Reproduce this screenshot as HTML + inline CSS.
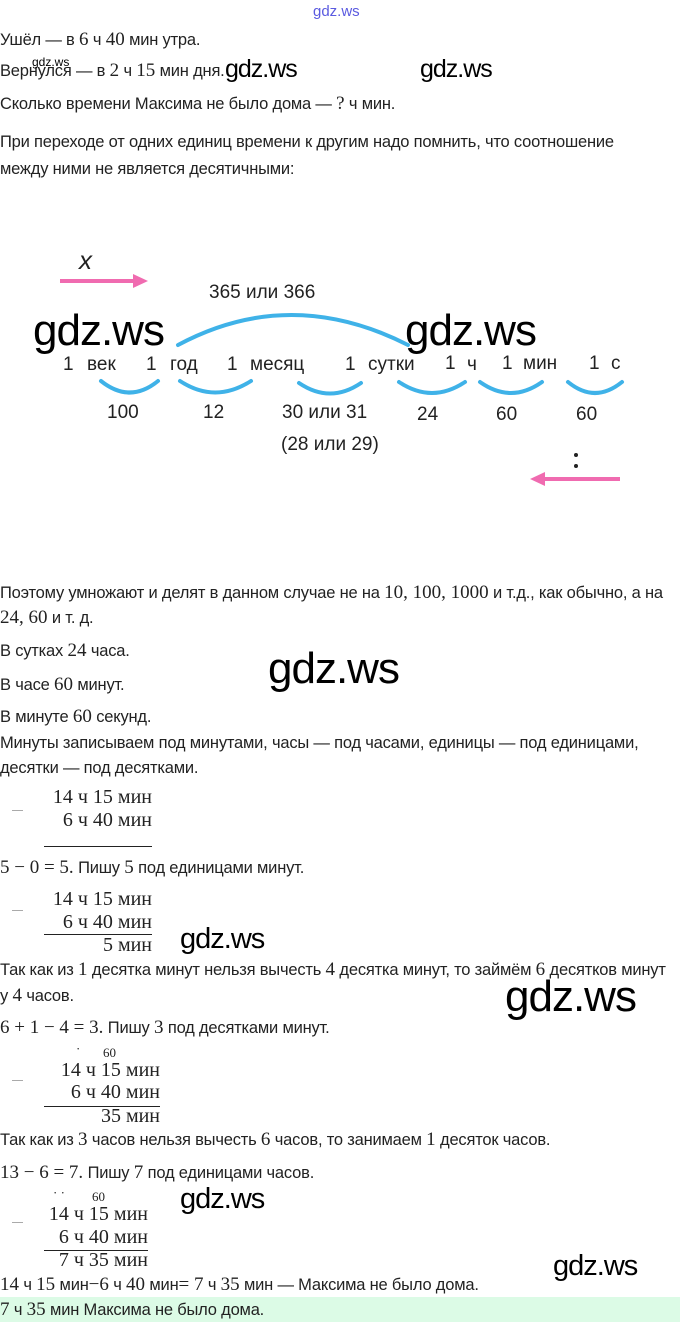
<!DOCTYPE html>
<html><head><meta charset="utf-8"><style>
body{margin:0;width:680px;height:1322px;background:#fff;position:relative;overflow:hidden;font-family:"Liberation Sans",sans-serif;color:#222;}
.t{position:absolute;left:0;font-size:16.5px;line-height:18px;white-space:nowrap;letter-spacing:-0.2px;}
.m{font-family:"Liberation Serif",serif;font-size:19px;letter-spacing:0;}
.w{position:absolute;font-family:"Liberation Sans",sans-serif;color:#000;white-space:nowrap;line-height:1;letter-spacing:-1px;}
.b{position:absolute;font-family:"Liberation Serif",serif;font-size:20px;line-height:20px;text-align:right;white-space:nowrap;color:#222;}
.ln{position:absolute;height:1px;background:#222;}
.mn{position:absolute;left:12px;width:11px;height:1px;background:#aaa;}
.d{position:absolute;font-size:19px;font-family:"Liberation Sans",sans-serif;white-space:nowrap;color:#222;line-height:20px;}
</style></head><body>
<div class="w" style="left:313px;top:4px;font-size:15px;color:#5a5ae0;letter-spacing:0">gdz.ws</div>
<div class="t" style="top:31px">Ушёл — в <span class="m">6</span> ч <span class="m">40</span> мин утра.</div>
<div class="t" style="top:62px">Вернулся — в <span class="m">2</span> ч <span class="m">15</span> мин дня.</div>
<div class="w" style="left:32px;top:56px;font-size:12px;letter-spacing:0">gdz.ws</div>
<div class="w" style="left:225px;top:57px;font-size:25px">gdz.ws</div>
<div class="w" style="left:420px;top:57px;font-size:25px">gdz.ws</div>
<div class="t" style="top:95px">Сколько времени Максима не было дома — <span class="m">?</span> ч мин.</div>
<div class="t" style="top:133px">При переходе от одних единиц времени к другим надо помнить, что соотношение</div>
<div class="t" style="top:160px">между ними не является десятичными:</div>

<svg style="position:absolute;left:0;top:0" width="680" height="520">
<g stroke="#f06bb0" stroke-width="4" fill="#f06bb0">
<line x1="60" y1="281" x2="135" y2="281"/><polygon points="148,281 133,274 133,288" stroke="none"/>
<line x1="545" y1="479" x2="620" y2="479"/><polygon points="530,479 545,472 545,486" stroke="none"/>
</g>
<g stroke="#3fb2e8" stroke-width="4" fill="none" stroke-linecap="round">
<path d="M178,345 Q290,285 408,345"/>
<path d="M101,381 Q130,404 158,381"/>
<path d="M180,381 Q215,404 251,381"/>
<path d="M299,383 Q330,404 361,383"/>
<path d="M399,382 Q432,404 465,382"/>
<path d="M480,382 Q511,404 542,382"/>
<path d="M568,382 Q595,404 622,382"/>
</g>
<circle cx="576" cy="455" r="2" fill="#222"/><circle cx="576" cy="466" r="2" fill="#222"/>
</svg>
<div class="d" style="left:79px;top:250px;font-size:26px;font-style:italic">x</div>
<div class="d" style="left:209px;top:283px">365 или 366</div>
<div class="d" style="left:63px;top:355px">1</div>
<div class="d" style="left:87px;top:355px">век</div>
<div class="d" style="left:146px;top:355px">1</div>
<div class="d" style="left:170px;top:355px">год</div>
<div class="d" style="left:227px;top:355px">1</div>
<div class="d" style="left:250px;top:355px">месяц</div>
<div class="d" style="left:345px;top:355px">1</div>
<div class="d" style="left:368px;top:355px">сутки</div>
<div class="d" style="left:445px;top:354px">1</div>
<div class="d" style="left:467px;top:355px">ч</div>
<div class="d" style="left:502px;top:354px">1</div>
<div class="d" style="left:523px;top:354px">мин</div>
<div class="d" style="left:589px;top:354px">1</div>
<div class="d" style="left:611px;top:354px">с</div>
<div class="d" style="left:107px;top:403px">100</div>
<div class="d" style="left:203px;top:403px">12</div>
<div class="d" style="left:282px;top:403px">30 или 31</div>
<div class="d" style="left:417px;top:405px">24</div>
<div class="d" style="left:496px;top:405px">60</div>
<div class="d" style="left:576px;top:405px">60</div>
<div class="d" style="left:281px;top:435px">(28 или 29)</div>
<div class="w" style="left:33px;top:309px;font-size:44px">gdz.ws</div>
<div class="w" style="left:405px;top:309px;font-size:44px">gdz.ws</div>

<div class="t" style="top:584px">Поэтому умножают и делят в данном случае не на <span class="m">10, 100, 1000</span> и т.д., как обычно, а на</div>
<div class="t" style="top:609px"><span class="m">24, 60</span> и т. д.</div>
<div class="t" style="top:642px">В сутках <span class="m">24</span> часа.</div>
<div class="w" style="left:268px;top:647px;font-size:44px">gdz.ws</div>
<div class="t" style="top:676px">В часе <span class="m">60</span> минут.</div>
<div class="t" style="top:708px">В минуте <span class="m">60</span> секунд.</div>
<div class="t" style="top:734px">Минуты записываем под минутами, часы — под часами, единицы — под единицами,</div>
<div class="t" style="top:759px">десятки — под десятками.</div>

<div class="mn" style="top:810px"></div>
<div class="b" style="right:528px;top:787px">14 ч 15 мин</div>
<div class="b" style="right:528px;top:810px">6 ч 40 мин</div>
<div class="ln" style="left:44px;width:108px;top:846px"></div>
<div class="t" style="top:859px"><span class="m">5 − 0 = 5.</span> Пишу <span class="m">5</span> под единицами минут.</div>

<div class="mn" style="top:910px"></div>
<div class="b" style="right:528px;top:889px">14 ч 15 мин</div>
<div class="b" style="right:528px;top:912px">6 ч 40 мин</div>
<div class="ln" style="left:44px;width:108px;top:934px"></div>
<div class="b" style="right:528px;top:935px">5 мин</div>
<div class="w" style="left:180px;top:925px;font-size:29px">gdz.ws</div>

<div class="t" style="top:961px">Так как из <span class="m">1</span> десятка минут нельзя вычесть <span class="m">4</span> десятка минут, то займём <span class="m">6</span> десятков минут</div>
<div class="t" style="top:987px">у <span class="m">4</span> часов.</div>
<div class="w" style="left:505px;top:975px;font-size:44px">gdz.ws</div>
<div class="t" style="top:1019px"><span class="m">6 + 1 − 4 = 3.</span> Пишу <span class="m">3</span> под десятками минут.</div>

<div class="b" style="left:103px;top:1046px;font-size:13px;line-height:14px;text-align:left">60</div>
<div class="b" style="left:76px;top:1042px;font-size:13px;line-height:14px;text-align:left">·</div>
<div class="mn" style="top:1080px"></div>
<div class="b" style="right:520px;top:1060px">14 ч 15 мин</div>
<div class="b" style="right:520px;top:1082px">6 ч 40 мин</div>
<div class="ln" style="left:44px;width:116px;top:1106px"></div>
<div class="b" style="right:520px;top:1106px">35 мин</div>

<div class="t" style="top:1131px">Так как из <span class="m">3</span> часов нельзя вычесть <span class="m">6</span> часов, то занимаем <span class="m">1</span> десяток часов.</div>
<div class="t" style="top:1164px"><span class="m">13 − 6 = 7.</span> Пишу <span class="m">7</span> под единицами часов.</div>

<div class="b" style="left:92px;top:1190px;font-size:13px;line-height:14px;text-align:left">60</div>
<div class="b" style="left:53px;top:1186px;font-size:13px;line-height:14px;text-align:left">· ·</div>
<div class="mn" style="top:1222px"></div>
<div class="b" style="right:532px;top:1204px">14 ч 15 мин</div>
<div class="b" style="right:532px;top:1227px">6 ч 40 мин</div>
<div class="ln" style="left:44px;width:104px;top:1250px"></div>
<div class="b" style="right:532px;top:1250px">7 ч 35 мин</div>
<div class="w" style="left:180px;top:1185px;font-size:29px">gdz.ws</div>
<div class="w" style="left:553px;top:1252px;font-size:29px">gdz.ws</div>

<div class="t" style="top:1276px"><span class="m">14</span> ч <span class="m">15</span> мин<span class="m">−6</span> ч <span class="m">40</span> мин<span class="m">= 7</span> ч <span class="m">35</span> мин — Максима не было дома.</div>
<div style="position:absolute;left:0;top:1297px;width:680px;height:25px;background:#dcfbe6"></div>
<div class="t" style="top:1301px"><span class="m">7</span> ч <span class="m">35</span> мин Максима не было дома.</div>
</body></html>
